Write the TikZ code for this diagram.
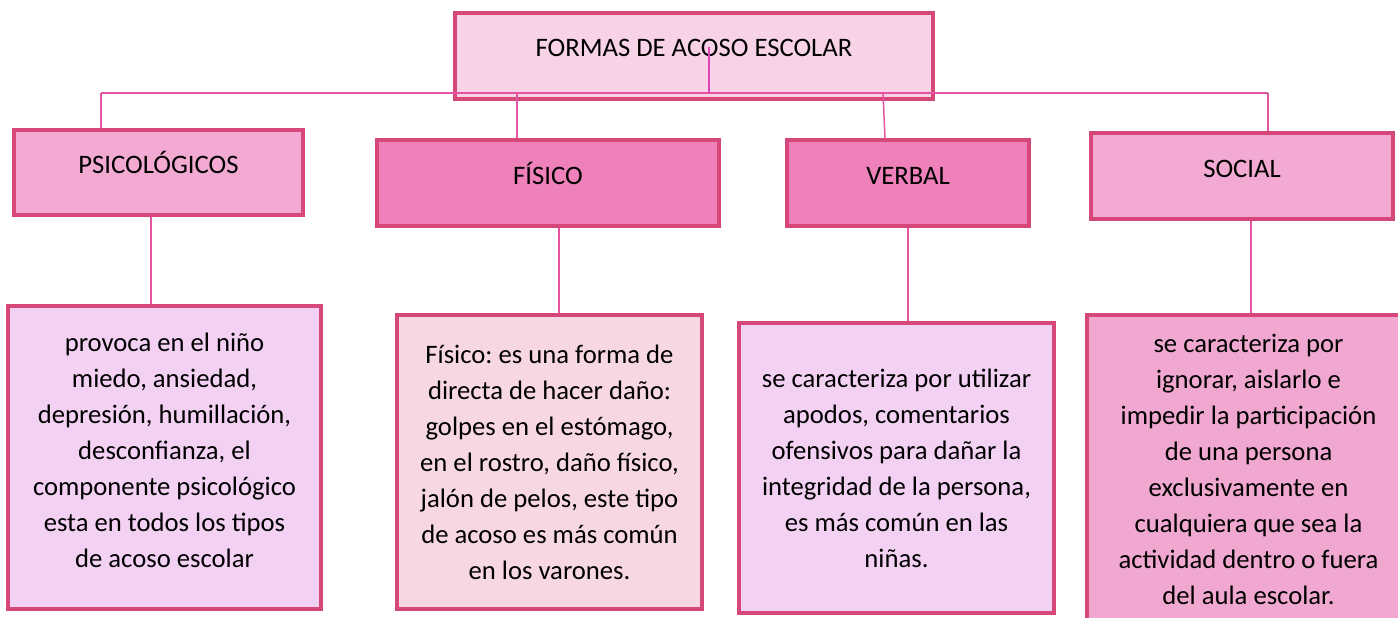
\documentclass[tikz,border=0pt]{standalone}
\usepackage{fontspec}
\setmainfont{Carlito}
\frenchspacing
\definecolor{borde}{HTML}{D6477A}
\definecolor{linea}{HTML}{E6549F}
\definecolor{lila}{HTML}{D946B5}
\definecolor{rosaclaro}{HTML}{F8D3E8}
\definecolor{rosamedio}{HTML}{F2AAD2}
\definecolor{rosafuerte}{HTML}{EE80BA}
\definecolor{malva}{HTML}{F3D1F3}
\definecolor{rosapalido}{HTML}{F7D7E4}
\definecolor{rosasocial}{HTML}{F1A8D0}
\begin{document}
\begin{tikzpicture}[x=0.75pt,y=-0.75pt,
  caja/.style={draw=borde,line width=2.3pt,inner sep=0pt,font=\fontsize{20}{27}\selectfont},
  titulo/.style={caja,text height=13.5pt,text depth=13.5pt},
  tipo/.style={caja,text height=13.5pt,text depth=12pt},
  texto/.style={caja,align=center},
  conector/.style={draw=linea,line width=1.1pt}]
  \useasboundingbox (0,0) rectangle (1398,617);
  \begin{scope}
  \clip (0,0) rectangle (1398,617);
  \node[titulo,fill=rosaclaro,minimum width=358.5pt,minimum height=64.5pt] (formas) at (694,56) {FORMAS DE ACOSO ESCOLAR}; %raiz
  % tipos de acoso
  \node[tipo,fill=rosamedio,minimum width=216.75pt,minimum height=63.75pt] (psi) at (158.5,172.5) {PSICOLÓGICOS};
  \node[tipo,fill=rosafuerte,minimum width=256.5pt,minimum height=64.5pt] (fis) at (548,183) {FÍSICO};
  \node[tipo,fill=rosafuerte,minimum width=181.5pt,minimum height=64.5pt] (ver) at (908,183) {VERBAL};
  \node[tipo,fill=rosamedio,minimum width=226.5pt,minimum height=64.5pt] (soc) at (1242,176) {SOCIAL};
  % descripciones
  \node[texto,fill=malva,minimum width=234.75pt,minimum height=227.25pt] (psid) at (164.5,457.5)
    {provoca en el niño\\ miedo, ansiedad,\\ depresión, humillación,\\ desconfianza, el\\ componente psicológico\\ esta en todos los tipos\\ de acoso escolar\\[-16.5pt]\mbox{}};
  \node[texto,fill=rosapalido,minimum width=228.75pt,minimum height=220.5pt] (fisd) at (549.5,462)
    {Físico: es una forma de\\ directa de hacer daño:\\ golpes en el estómago,\\ en el rostro, daño físico,\\ jalón de pelos, este tipo\\ de acoso es más común\\ en los varones.};
  \node[texto,fill=malva,minimum width=236.25pt,minimum height=217.5pt] (verd) at (896.5,468)
    {se caracteriza por utilizar\\ apodos, comentarios\\ ofensivos para dañar la\\ integridad de la persona,\\ es más común en las\\ niñas.};
  \node[texto,fill=rosasocial,minimum width=242.25pt,minimum height=231pt] (socd) at (1248.5,469)
    {se caracteriza por\\ ignorar, aislarlo e\\ impedir la participación\\ de una persona\\ exclusivamente en\\ cualquiera que sea la\\ actividad dentro o fuera\\ del aula escolar.};
  \end{scope}
  % conectores
  \coordinate (izq) at (101,93);
  \coordinate (der) at (1268,93);
  \coordinate (centro) at (709,47);
  \coordinate (bfis) at (517,93);
  \coordinate (bver) at (883,93);
  \draw[conector] (izq) -- (der); %barra
  \draw[conector,draw=lila] (centro) -- (centro |- izq);
  \draw[conector] (izq) -- (izq |- psi.north);
  \draw[conector] (bfis) -- (bfis |- fis.north);
  \draw[conector] (bver) -- ([xshift=1.5pt]bver |- ver.north);
  \draw[conector] (der) -- (der |- soc.north);
  \draw[conector] ([xshift=-5.6pt]psi.south) -- ([xshift=-5.6pt]psi.south |- psid.north);
  \draw[conector] ([xshift=8.25pt]fis.south) -- ([xshift=8.25pt]fis.south |- fisd.north);
  \draw[conector] (ver.south) -- (ver.south |- verd.north);
  \draw[conector] ([xshift=6.75pt]soc.south) -- ([xshift=6.75pt]soc.south |- socd.north);
\end{tikzpicture}
\end{document}
